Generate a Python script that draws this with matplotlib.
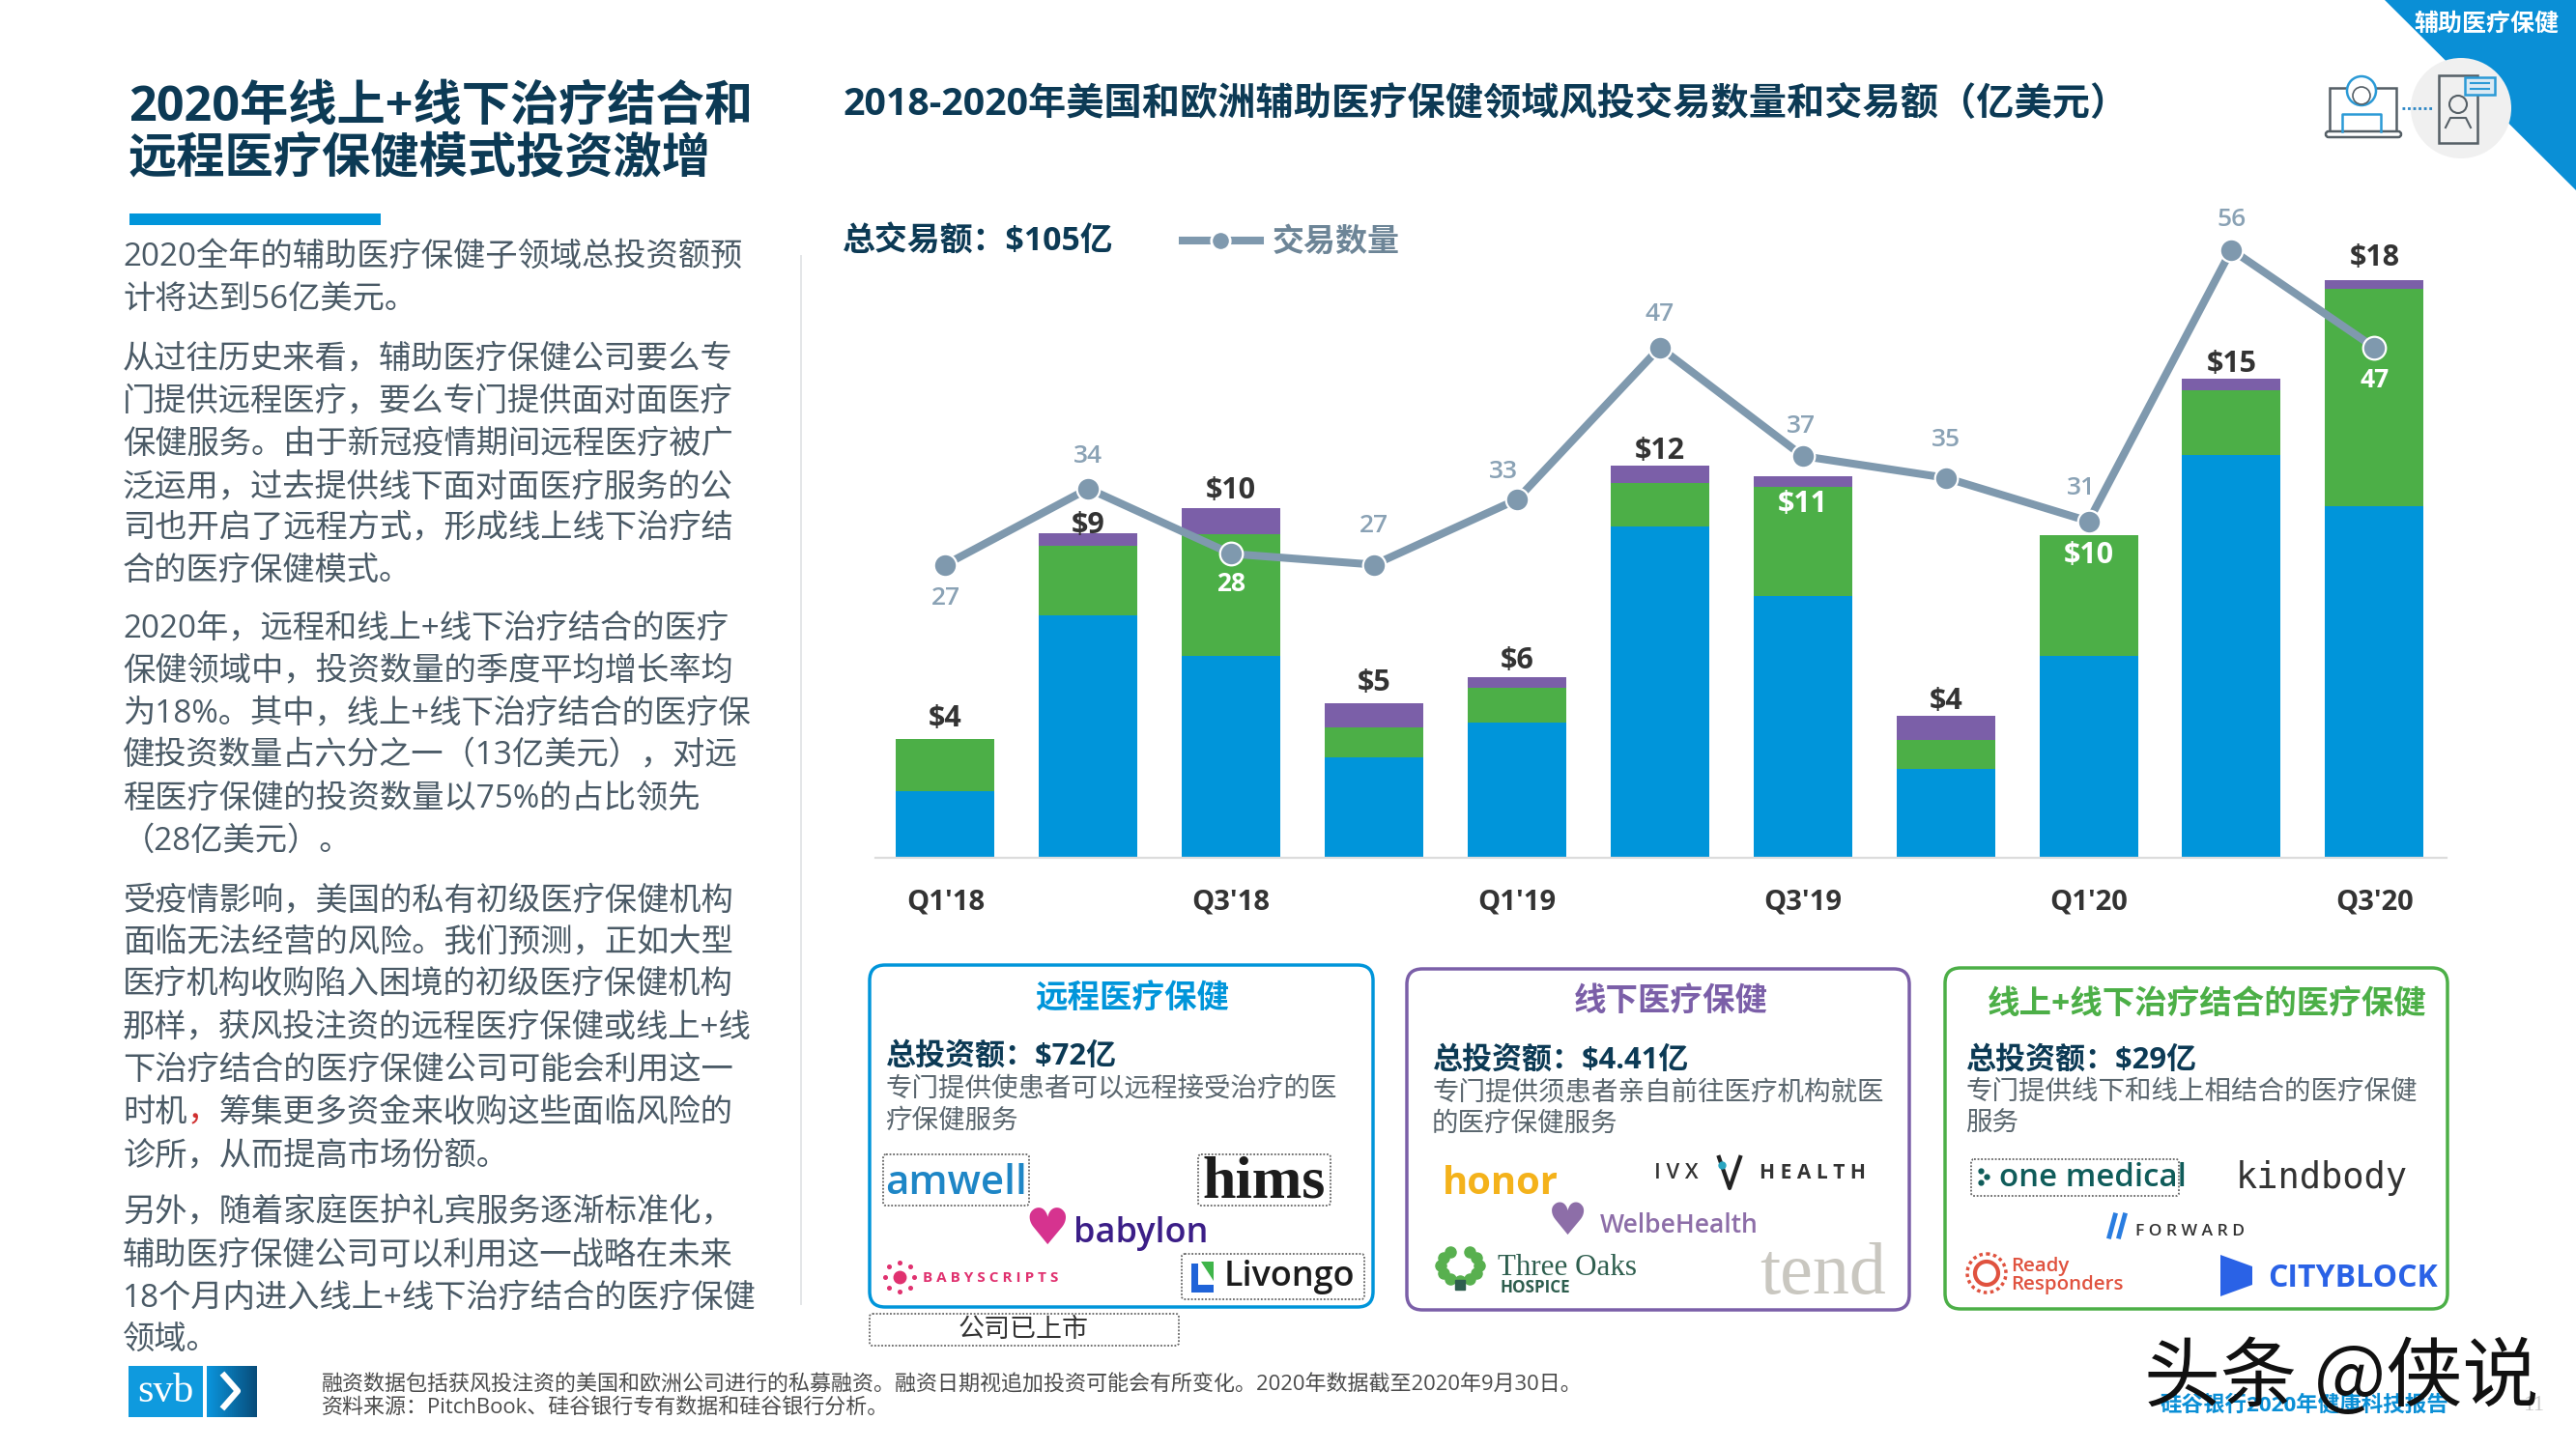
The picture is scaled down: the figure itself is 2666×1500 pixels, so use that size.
import numpy as np
import matplotlib
matplotlib.use("Agg")
import matplotlib.pyplot as plt
from matplotlib.patches import FancyBboxPatch, Rectangle, Polygon, Circle

plt.rcParams['font.family'] = ['Open Sans', 'Noto Sans CJK SC', 'DejaVu Sans']

# ---------- data ----------
quarters = ["Q1'18", "Q2'18", "Q3'18", "Q4'18", "Q1'19", "Q2'19", "Q3'19", "Q4'19", "Q1'20", "Q2'20", "Q3'20"]
remote = [2.09, 7.58, 6.29, 3.14, 4.23, 10.34, 8.17, 2.78, 6.29, 12.57, 10.98]
hybrid = [1.62, 2.17, 3.80, 0.94, 1.09, 1.35, 3.40, 0.89, 3.77, 2.03, 6.78]
offline = [0.0, 0.37, 0.82, 0.74, 0.31, 0.54, 0.35, 0.77, 0.0, 0.37, 0.28]
total_labels = ["$4", "$9", "$10", "$5", "$6", "$12", "$11", "$4", "$10", "$15", "$18"]
deals = [27, 34, 28, 27, 33, 47, 37, 35, 31, 56, 47]

total_offsets = [21, 8, 18, 21, 17, 15, -29, 15, -21, 15, 23]
total_white = [False, False, False, False, False, False, True, False, True, False, False]
deal_offsets = [(0, -35), (0, 33), (0, -31), (0, 40), (-14, 29), (0, 34), (-2, 31), (0, 39), (-8, 34), (0, 31), (0, -34)]
deal_white = [False, False, True, False, False, False, False, False, False, False, True]

W, H = 2666, 1500
BLUE, GREEN, PURPLE = "#0095da", "#4caf47", "#7b5fa8"
NAVY = "#0c3a55"
BODY = "#4a5a66"
LINE = "#7f99ae"
LABEL = "#8aa2b5"

title_lines = ["2020年线上+线下治疗结合和", "远程医疗保健模式投资激增"]
body_lines = [
    (155, "2020全年的辅助医疗保健子领域总投资额预"), (181, "计将达到56亿美元。"),
    (217, "从过往历史来看，辅助医疗保健公司要么专"), (243, "门提供远程医疗，要么专门提供面对面医疗"),
    (269, "保健服务。由于新冠疫情期间远程医疗被广"), (295, "泛运用，过去提供线下面对面医疗服务的公"),
    (320, "司也开启了远程方式，形成线上线下治疗结"), (346, "合的医疗保健模式。"),
    (381, "2020年，远程和线上+线下治疗结合的医疗"), (407, "保健领域中，投资数量的季度平均增长率均"),
    (433, "为18%。其中，线上+线下治疗结合的医疗保"), (459, "健投资数量占六分之一（13亿美元），对远"),
    (485, "程医疗保健的投资数量以75%的占比领先"), (511, "（28亿美元）。"),
    (547, "受疫情影响，美国的私有初级医疗保健机构"), (573, "面临无法经营的风险。我们预测，正如大型"),
    (598, "医疗机构收购陷入困境的初级医疗保健机构"), (624, "那样，获风投注资的远程医疗保健或线上+线"),
    (650, "下治疗结合的医疗保健公司可能会利用这一"),
    (702, "诊所，从而提高市场份额。"),
    (737, "另外，随着家庭医护礼宾服务逐渐标准化，"), (763, "辅助医疗保健公司可以利用这一战略在未来"),
    (789, "18个月内进入线上+线下治疗结合的医疗保健"), (815, "领域。"),
]
red_comma_line = ("时机", "，", "筹集更多资金来收购这些面临风险的")

fig = plt.figure(figsize=(W / 100, H / 100), dpi=100, facecolor="white")

# ---------- page layer in pixel coordinates ----------
pg = fig.add_axes([0, 0, 1, 1], zorder=0)
pg.set_xlim(0, W)
pg.set_ylim(H, 0)
pg.axis("off")


def T(x, y, s, px, color="#333333", weight="normal", ha="left", va="center", **kw):
    return pg.text(x, y + 3, s, fontsize=px * 0.72, color=color, fontweight=weight, ha=ha, va=va,
                   parse_math=False, **kw)


# banner
pg.add_patch(Polygon([(2468, 0), (W, 0), (W, 197)], closed=True, fc="#0a8fd6", ec="none"))
pg.add_patch(Circle((2547, 112), 52, fc="#f0f0f0", ec="none"))
T(2573, 22, "辅助医疗保健", 25, "white", "bold", ha="center")
# laptop + doctor icon
pg.add_patch(Rectangle((2411, 91), 69, 45, fc="none", ec="#555f66", lw=1.8))
pg.add_patch(FancyBboxPatch((2407, 136), 78, 6, boxstyle="round,pad=0,rounding_size=3", fc="white", ec="#555f66", lw=1.8))
pg.plot([2424, 2424, 2464, 2464], [136, 118, 118, 136], color="#2b9ad6", lw=1.8)
pg.add_patch(Circle((2444, 94), 15, fc="white", ec="#2b9ad6", lw=1.8))
pg.add_patch(Circle((2444, 99), 9, fc="white", ec="#555f66", lw=1.2))
pg.plot([2486, 2518], [112, 112], color="#2b86c5", lw=2, ls=(0, (1, 1)))
# phone + patient icon
pg.add_patch(Rectangle((2524, 78), 40, 70, fc="none", ec="#555f66", lw=1.8))
pg.add_patch(Circle((2544, 108), 9, fc="none", ec="#555f66", lw=1.5))
pg.plot([2531, 2536, 2552, 2557], [132, 122, 122, 132], color="#555f66", lw=1.5)
pg.add_patch(Rectangle((2551, 80), 31, 18, fc="#dbeaf4", ec="#2b9ad6", lw=1.8))
pg.plot([2557, 2576], [86, 86], color="#2b9ad6", lw=1.5)
pg.plot([2557, 2576], [92, 92], color="#2b9ad6", lw=1.5)

# left column
T(133, 109, title_lines[0], 50.3, NAVY, "bold")
T(133, 162, title_lines[1], 50.3, NAVY, "bold")
pg.add_patch(Rectangle((134, 221), 260, 12, fc=BLUE, ec="none"))
for y, line in body_lines:
    T(127, y * 1.7, line, 33.3, BODY)
T(127, 676 * 1.7, red_comma_line[0], 33.3, BODY)
T(127 + 33.3 * 2, 676 * 1.7, red_comma_line[1], 33.3, "#d03030")
T(127 + 33.3 * 3, 676 * 1.7, red_comma_line[2], 33.3, BODY)
pg.plot([829, 829], [265, 1350], color="#e4e6e8", lw=1.4)

# chart heading and legend
T(872, 105, "2018-2020年美国和欧洲辅助医疗保健领域风投交易数量和交易额（亿美元）", 39.2, NAVY, "bold")
T(872, 248, "总交易额：$105亿", 33.9, NAVY, "bold")
pg.plot([1224, 1304], [249, 249], color=LINE, lw=5.8)
pg.plot([1263], [249], "o", color=LINE, ms=14, mec="white", mew=2)
T(1317, 248, "交易数量", 33, "#6d8597", "bold")

# category boxes
boxes = [
    (900, 999, 521, 354, BLUE, "远程医疗保健", 1172, 1032, "总投资额：$72亿", 916, 1091,
     ["专门提供使患者可以远程接受治疗的医", "疗保健服务"], 1125),
    (1456, 1003, 520, 353, PURPLE, "线下医疗保健", 1729, 1034, "总投资额：$4.41亿", 1482, 1095,
     ["专门提供须患者亲自前往医疗机构就医", "的医疗保健服务"], 1128),
    (2013, 1002, 520, 353, GREEN, "线上+线下治疗结合的医疗保健", 2284, 1037, "总投资额：$29亿", 2034, 1095,
     ["专门提供线下和线上相结合的医疗保健", "服务"], 1128),
]
for x, y, w, h, c, ttl, tx, ty, inv, ix, iy, desc, dy in boxes:
    pg.add_patch(FancyBboxPatch((x, y), w, h, boxstyle="round,pad=0,rounding_size=16", fc="white", ec=c, lw=2.5))
    T(tx, ty, ttl, 33.5, c, "bold", ha="center")
    T(ix, iy, inv, 31, NAVY, "bold")
    T(ix, dy, desc[0], 27.5, "#5a666e")
    T(ix, dy + 33, desc[1], 27.5, "#5a666e")


def dashed(x, y, w, h):
    pg.add_patch(FancyBboxPatch((x, y), w, h, boxstyle="round,pad=0,rounding_size=3", fc="none", ec="#666666",
                                lw=1.3, ls=(0, (1, 1))))


# logos, box 1
dashed(914, 1195, 151, 53)
T(990, 1222, "amwell", 42, "#1e86c6", "semibold", ha="center")
dashed(1240, 1195, 137, 53)
T(1308, 1222, "hims", 62, "#1c1c1c", "bold", ha="center", family="Liberation Serif")
T(1084, 1271, "♥", 52, "#d6338f", ha="center", family="DejaVu Sans")
T(1111, 1274, "babylon", 36, "#3b1e87", "semibold")
pg.plot([931], [1322], "o", color="#e0316f", ms=9)
for a in np.arange(0, 360, 45):
    pg.plot([931 + 15 * np.cos(np.radians(a))], [1322 + 15 * np.sin(np.radians(a))], "o", color="#e0316f", ms=2.6)
T(955, 1320, "B A B Y S C R I P T S", 15.2, "#e0316f", "bold")
dashed(1223, 1298, 189, 47)
pg.add_patch(Polygon([(1233, 1308), (1240, 1308), (1240, 1330), (1256, 1330), (1256, 1338), (1233, 1338)], fc="#1f63d8", ec="none"))
pg.add_patch(Polygon([(1243, 1306), (1256, 1306), (1256, 1326)], fc="#3fb54a", ec="none"))
T(1267, 1319, "Livongo", 36, "#1c1c1c", "semibold")
dashed(900, 1360, 320, 33)
T(1059, 1374, "公司已上市", 27, "#333333", ha="center")

# logos, box 2
T(1493, 1222, "honor", 40, "#f4b21b", "bold")
T(1712, 1212, "I V X", 22, "#333333", "semibold")
pg.plot([1779, 1790, 1801], [1198, 1230, 1198], color="#222222", lw=3)
pg.plot([1782], [1206], "o", color="#2aa5c0", ms=5)
T(1821, 1211, "H E A L T H", 21, "#333333", "bold")
T(1623, 1263, "♥", 46, "#8d6ea8", ha="center", family="DejaVu Sans")
T(1656, 1266, "WelbeHealth", 26.5, "#8d6ea8", "semibold")
for a in (-60, -30, 0, 30, 60, 90, 120, 150, 180, 210, 240):
    pg.plot([1511 + 20 * np.cos(np.radians(a))], [1310 + 16 * np.sin(np.radians(a))], "o", color="#58b04f", ms=8)
pg.plot([1511], [1330], "s", color="#2e5e4e", ms=7)
T(1550, 1309, "Three Oaks", 31, "#2e5e4e", "normal", family="Liberation Serif")
T(1553, 1330, "HOSPICE", 17, "#2e5e4e", "bold")
T(1821, 1318, "tend", 76, "#c9c7c0", family="Liberation Serif")

# logos, box 3
dashed(2040, 1200, 215, 38)
pg.plot([2050, 2056, 2050], [1212, 1218, 1224], "o", color="#0f5c5a", ms=3.5)
T(2069, 1217, "one medical", 33, "#0f5c5a", "semibold")
T(2314, 1217, "kindbody", 37, "#333333", family="DejaVu Sans Mono")
pg.plot([2183, 2189], [1280, 1258], color="#2a7de0", lw=3.5)
pg.plot([2193, 2199], [1280, 1258], color="#2a7de0", lw=3.5)
T(2210, 1272, "F O R W A R D", 17.5, "#333333", "semibold")
pg.add_patch(Circle((2056, 1318), 12, fc="none", ec="#e0523f", lw=3))
pg.add_patch(Circle((2056, 1318), 20, fc="none", ec="#e0523f", lw=2.5, ls=(0, (1, 1))))
T(2081, 1308, "Ready", 20.5, "#e0523f", "semibold")
T(2081, 1327, "Responders", 20.5, "#e0523f", "semibold")
pg.add_patch(Polygon([(2298, 1299), (2331, 1311), (2331, 1330), (2298, 1342)], fc="#2a62e6", ec="none"))
T(2347, 1321, "CITYBLOCK", 32, "#2a62e6", "bold")

# footer
pg.add_patch(Rectangle((133, 1414), 77, 53, fc="#0f9ade", ec="none"))
for i, c in enumerate(np.linspace(0, 1, 26)):
    col = tuple((1 - c) * np.array([0.04, 0.58, 0.86]) + c * np.array([0.03, 0.30, 0.48]))
    pg.add_patch(Rectangle((214 + i * 2, 1414), 2.2, 53, fc=col, ec="none"))
T(171, 1438, "svb", 42, "white", ha="center", family="Liberation Serif")
pg.plot([232, 246, 232], [1424, 1440, 1456], color="white", lw=4.5)
T(333, 1431, "融资数据包括获风投注资的美国和欧洲公司进行的私募融资。融资日期视追加投资可能会有所变化。2020年数据截至2020年9月30日。", 22, "#4a4a4a")
T(333, 1454, "资料来源：PitchBook、硅谷银行专有数据和硅谷银行分析。", 22, "#4a4a4a")
T(2236, 1452, "硅谷银行2020年健康科技报告", 22.5, "#0a8fd6", "bold")
T(2612, 1452, "11", 23, "#c8c8c8", family="Liberation Serif")
T(2219, 1424, "头条 @侠说", 79, "#111111", zorder=5, family=["Noto Sans CJK SC"])

# ---------- chart ----------
AX_H = 700
PX_PER_USD, PX_PER_DEAL = 33.16, 11.24
ax = fig.add_axes([906 / W, (H - 888) / H, (2532 - 906) / W, AX_H / H], zorder=2)
ax.patch.set_alpha(0)
x = np.arange(len(quarters))
remote_a, hybrid_a, offline_a = map(np.array, (remote, hybrid, offline))
ax.bar(x, remote_a, width=0.69, color=BLUE)
ax.bar(x, hybrid_a, width=0.69, bottom=remote_a, color=GREEN)
ax.bar(x, offline_a, width=0.69, bottom=remote_a + hybrid_a, color=PURPLE)
ax.set_xlim(-0.49, 10.505)
ax.set_ylim(0, AX_H / PX_PER_USD)
ax.set_xticks(x[::2], quarters[::2])
ax.tick_params(axis="x", length=0, pad=23, labelsize=21, labelcolor="#333333")
for t in ax.get_xticklabels():
    t.set_fontweight("bold")
ax.set_yticks([])
for s in ("top", "left", "right"):
    ax.spines[s].set_visible(False)
ax.spines["bottom"].set_color("#dcdcdc")
ax.spines["bottom"].set_linewidth(1.6)
tops = remote_a + hybrid_a + offline_a
for xi, top, lab, off, wh in zip(x, tops, total_labels, total_offsets, total_white):
    ax.annotate(lab, (xi, top), xytext=(0, off), textcoords="offset pixels", ha="center", va="center",
                fontsize=22, fontweight="bold", color="white" if wh else "#333333", parse_math=False, zorder=6)

ax2 = ax.twinx()
ax2.set_ylim(0, AX_H / PX_PER_DEAL)
ax2.set_yticks([])
ax2.patch.set_alpha(0)
for s in ax2.spines.values():
    s.set_visible(False)
ax2.plot(x, deals, color=LINE, lw=5.8, marker="o", ms=17, mfc=LINE, mec="white", mew=1.6, solid_capstyle="round")
for xi, d, off, wh in zip(x, deals, deal_offsets, deal_white):
    ax2.annotate(str(d), (xi, d), xytext=off, textcoords="offset pixels", ha="center", va="center",
                 fontsize=19, fontweight="bold" if wh else "semibold", color="white" if wh else LABEL)

fig.savefig("out.png", dpi=100)
